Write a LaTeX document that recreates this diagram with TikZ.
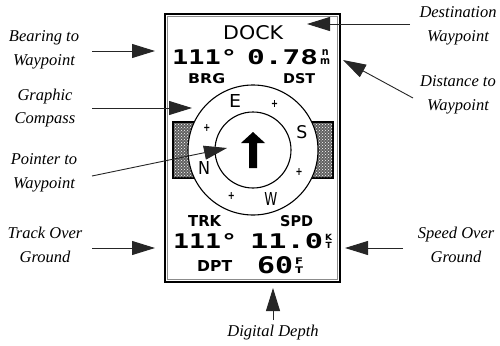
\documentclass[tikz,border=0pt]{standalone}
\usepackage{fontspec}
\usepackage{graphicx}
\setmainfont{Liberation Serif}
\setsansfont{DejaVu Sans}
\setmonofont{DejaVu Sans Mono}
\usetikzlibrary{arrows.meta,patterns}
\newcommand\lcdbox[3]{\resizebox{#1pt}{#2pt}{#3}}
\newcommand\unitpair[2]{\sffamily\bfseries\lineskip=0.12em\shortstack[c]{#1\\#2}}
\begin{document}
\begin{tikzpicture}[x=1pt,y=-1pt,
  lbl/.style={font=\fontsize{16.5}{23.5}\selectfont\itshape, align=center, inner sep=0pt},
  lcd/.style={inner sep=0pt, anchor=south west},
  cmp/.style={inner sep=0pt, anchor=center},
  callout/.style={draw=black!85, line width=0.9pt, -{Triangle[length=23pt,width=14pt]}},
  sidebox/.style={fill=black!62, draw=black, line width=1.2pt},
  ring/.style={draw=black, line width=1.1pt, fill=white}]
\useasboundingbox (0,0) rectangle (500,345);
% screen frame
\node[draw=black, line width=2.6pt, minimum width=175pt, minimum height=268pt, inner sep=0pt] (screen) at (252.5,148) {};
\draw[black!45, line width=0.6pt] (167.5,16.5) rectangle (337.5,279.5);
% side boxes
\draw[sidebox] (173,122) rectangle (206,178);
\fill[pattern=crosshatch dots, pattern color=white] (174,123) rectangle (205,177);
\draw[sidebox] (300,122) rectangle (333,178);
\fill[pattern=crosshatch dots, pattern color=white] (301,123) rectangle (332,177);
% compass rings
\coordinate (cc) at (253,150);
\draw[ring] (cc) circle[radius=65];
\draw[ring] (cc) circle[radius=38];
% compass letters
\node[cmp] (cE) at ({253+52*cos(110)},{150-52*sin(110)}) {\lcdbox{12}{13}{\sffamily E}};
\node[cmp] (cS) at ({253+52*cos(20)},{150-52*sin(20)}) {\lcdbox{11}{13}{\sffamily S}};
\node[cmp] (cW) at ({253+52*cos(-70)},{150-52*sin(-70)}) {\lcdbox{13}{13}{\sffamily W}};
\node[cmp] (cN) at ({253+52*cos(-160)},{150-52*sin(-160)}) {\lcdbox{12}{13}{\sffamily N}};
\node[cmp] (p1) at ({253+51*cos(65)},{150-51*sin(65)}) {\lcdbox{7}{7}{\sffamily\bfseries +}};
\node[cmp] (p2) at ({253+51*cos(-25)},{150-51*sin(-25)}) {\lcdbox{7}{7}{\sffamily\bfseries +}};
\node[cmp] (p3) at ({253+51*cos(-115)},{150-51*sin(-115)}) {\lcdbox{7}{7}{\sffamily\bfseries +}};
\node[cmp] (p4) at ({253+51*cos(155)},{150-51*sin(155)}) {\lcdbox{7}{7}{\sffamily\bfseries +}};
% pointer arrow
\fill[black] (253,132) -- (265,143) -- (257,143) -- (257,168) -- (249,168) -- (249,143) -- (241,143) -- cycle;
% LCD texts
\node[lcd] (dock) at (223,40) {\lcdbox{60}{14}{\sffamily DOCK}};
\node[lcd] (brgv) at (172,65) {\lcdbox{65}{15}{\ttfamily\bfseries 111°}};
\node[lcd] (dstv) at (247,65) {\lcdbox{71}{15}{\ttfamily\bfseries 0.78}};
\node[lcd] (un1) at (320,65) {\lcdbox{10}{15}{\unitpair{n}{m}}};
\node[lcd] (brg) at (188,84) {\lcdbox{37}{10}{\sffamily\bfseries BRG}};
\node[lcd] (dst) at (283,84) {\lcdbox{32}{10}{\sffamily\bfseries DST}};
\node[lcd] (trk) at (188,227) {\lcdbox{33}{11}{\sffamily\bfseries TRK}};
\node[lcd] (spd) at (280,227) {\lcdbox{33}{11}{\sffamily\bfseries SPD}};
\node[lcd] (trkv) at (173,249) {\lcdbox{64}{15}{\ttfamily\bfseries 111°}};
\node[lcd] (spdv) at (250,249) {\lcdbox{73}{15}{\ttfamily\bfseries 11.0}};
\node[lcd] (un3) at (325,249) {\lcdbox{7}{15}{\unitpair{K}{T}}};
\node[lcd] (dpt) at (197,272) {\lcdbox{35}{11}{\sffamily\bfseries DPT}};
\node[lcd] (dptv) at (257,274) {\lcdbox{36}{17}{\ttfamily\bfseries 60}};
\node[lcd] (un5) at (295,274) {\lcdbox{8}{16}{\unitpair{F}{T}}};
% labels
\node[lbl] (lbear) at (44,50) {Bearing to\\Waypoint};
\node[lbl] (lcomp) at (45,108) {Graphic\\Compass};
\node[lbl] (lpoint) at (44,173) {Pointer to\\Waypoint};
\node[lbl] (ltrack) at (45,245) {Track Over\\Ground};
\node[lbl] (ldest) at (458,26) {Destination\\Waypoint};
\node[lbl] (ldist) at (458,95) {Distance to\\Waypoint};
\node[lbl] (lspeed) at (456,245) {Speed Over\\Ground};
\node[lbl] (ldepth) at (273,333) {Digital Depth};
% connector end points
\coordinate (sbear) at (92,51);   \coordinate (tbear) at (155,51);
\coordinate (scomp) at (92,108);  \coordinate (tcomp) at (192,108);
\coordinate (spoint) at (92,176); \coordinate (tpoint) at (227,148);
\coordinate (strack) at (92,248); \coordinate (ttrack) at (155,248);
\coordinate (sdest) at (410,24);  \coordinate (tdest) at (307,24);
\coordinate (sdist) at (413,98);  \coordinate (tdist) at (343,60);
\coordinate (sspeed) at (403,248);\coordinate (tspeed) at (345,248);
\coordinate (sdepth) at (273,320);\coordinate (tdepth) at (273,288);
\draw[callout] (sbear) -- (tbear);
\draw[callout] (scomp) -- (tcomp);
\draw[callout] (spoint) -- (tpoint);
\draw[callout] (strack) -- (ttrack);
\draw[callout] (sdest) -- (tdest);
\draw[callout] (sdist) -- (tdist);
\draw[callout] (sspeed) -- (tspeed);
\draw[callout] (sdepth) -- (tdepth);
\end{tikzpicture}
\end{document}
